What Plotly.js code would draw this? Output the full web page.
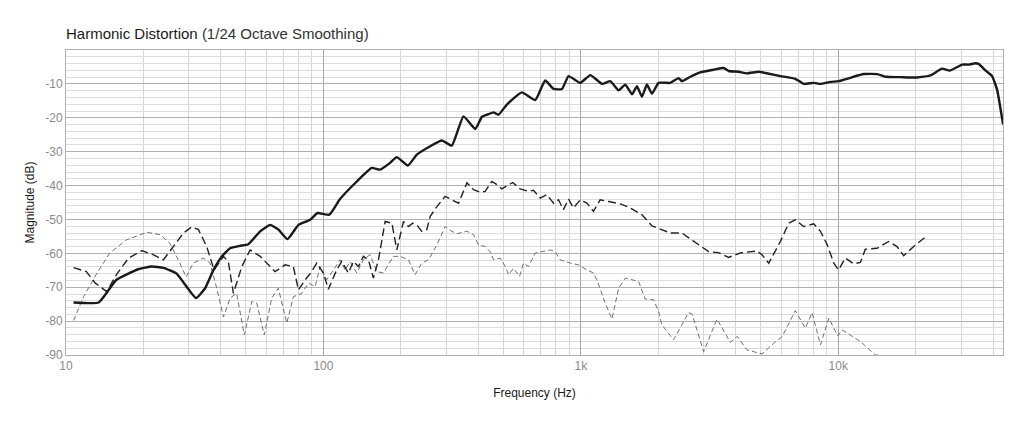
<!DOCTYPE html>
<html>
<head>
<meta charset="utf-8">
<script src="https://cdn.plot.ly/plotly-3.0.1.min.js"></script>
<style>html,body{margin:0;padding:0;background:#fff;}#chart{width:1024px;height:427px;}</style>
</head>
<body>
<div id="chart"></div>
<script>
// Fundamental (solid)
const fundFreq = [10.7, 13.4, 15.7, 19.1, 21.5, 23.9, 26.9, 32, 34.7, 37.4, 40.3, 43.4, 47.4, 51.1, 56.8, 62.1, 66.9, 72.5, 80, 88.8, 94.8, 105.5, 116, 134.8, 154, 166, 181.5, 192.8, 212.8, 230.6, 260, 288.5, 315.5, 350, 389, 413, 432, 458, 479, 516, 590, 665, 727, 784, 845, 896, 995, 1089, 1208, 1301, 1402, 1489, 1581, 1652, 1728, 1806, 1889, 2005, 2225, 2397, 2470, 2662, 2910, 3281, 3589, 3752, 4104, 4424, 4910, 5370, 5960, 6810, 7340, 8030, 8530, 9330, 10030, 11140, 12550, 14160, 15250, 17430, 20250, 22800, 25300, 27100, 30300, 32100, 34100, 35100, 37300, 39600, 41400, 43700];
const fundDb = [-74.5, -74.5, -67.8, -64.7, -63.9, -64.3, -66, -73.2, -70.3, -64.9, -60.9, -58.5, -57.8, -57.3, -53.5, -51.6, -53, -55.8, -51.6, -50.1, -48.1, -48.6, -44, -38.8, -34.8, -35.3, -33.3, -31.6, -34.1, -30.9, -28.4, -26.7, -28.2, -19.6, -23.3, -19.7, -19.1, -18.4, -19.1, -16.1, -12.5, -14.8, -9.0, -11.5, -11.5, -7.7, -9.7, -7.4, -10, -9.2, -11.9, -10.2, -13.1, -10.7, -13.8, -10.2, -12.9, -9.7, -9.7, -8.3, -9.2, -7.9, -6.6, -5.8, -5.3, -6.2, -6.4, -6.9, -6.4, -7.0, -7.7, -8.5, -10.0, -9.7, -10, -9.4, -9.2, -8.2, -7.1, -7.1, -7.9, -8.0, -8.1, -7.5, -5.5, -6.1, -4.3, -4.3, -3.9, -4.1, -6, -7.7, -11.7, -22];

// 2nd harmonic (dashed)
const h2Freq = [10.7, 12.0, 13.0, 14.4, 15.7, 17.5, 19.7, 21.8, 23.9, 26.1, 28.6, 30.8, 32.7, 35.2, 37.6, 40.9, 42.7, 44.7, 48.2, 51.9, 56.8, 64.9, 71, 76.4, 80, 84.9, 89.3, 94.2, 100, 104.5, 112.6, 117.8, 125, 130.8, 136.8, 143, 149.6, 156.4, 163.6, 173.7, 184.5, 192.8, 198.7, 204.6, 213.9, 222.4, 230.6, 241, 252, 260, 276, 297, 315.5, 335, 361, 383, 406, 425, 451, 472, 493, 516, 544, 581, 626, 655, 695, 738, 784, 819, 856, 896, 936, 995, 1056, 1120, 1189, 1282, 1423, 1556, 1728, 1889, 2032, 2225, 2470, 2705, 3137, 3431, 3752, 4162, 4550, 4830, 5055, 5370, 5960, 6420, 6810, 7340, 8030, 8530, 9060, 9610, 10030, 10650, 11480, 12190, 12740, 14160, 15700, 16920, 17960, 19630, 21790];
const h2Db = [-64.2, -65.4, -68.8, -71.3, -66.3, -61.4, -59.2, -60.4, -61.9, -58, -54.0, -52.2, -53, -58, -64.9, -60.9, -62.4, -71.8, -63.9, -59, -60.9, -65.4, -63.4, -63.9, -70.8, -67.8, -65.8, -62.9, -65.8, -70.6, -64.9, -62.4, -65.8, -62.4, -63.9, -60.9, -61.9, -67.3, -61.9, -50.6, -51.1, -59, -55, -50.6, -52.1, -51.1, -51.6, -53.5, -53, -49.1, -46.2, -43.2, -44.2, -45.2, -39.2, -41.2, -42.0, -41.7, -38.8, -39.7, -41, -40.2, -39.1, -41, -41.7, -41.4, -43.7, -42.7, -45.2, -44.2, -47.1, -44, -46.6, -44.2, -45.2, -47.6, -44.2, -44.7, -45.4, -46.6, -48.6, -51.9, -52.8, -54, -54, -56, -59.5, -59.8, -61.2, -59.9, -59.5, -59.3, -60.4, -62.9, -56.5, -51.1, -50.1, -52.1, -51.3, -53.5, -57.5, -62.9, -64.9, -61.4, -63.1, -62.7, -58.8, -58.5, -56.5, -58, -60.7, -58, -55.2];

// 3rd harmonic (thin dashed)
const h3Freq = [10.7, 11.7, 13.2, 14.8, 17.2, 20.6, 23.2, 25.3, 27.3, 29.3, 31.2, 34.2, 36.3, 38.5, 40.9, 43.4, 46, 49.3, 52.7, 55.1, 58.9, 63.0, 66.8, 72.1, 76.4, 82.4, 87.5, 92.9, 97.1, 103, 109.4, 116.1, 121.4, 127, 134.8, 143, 151.7, 161.3, 171, 181.5, 187, 198.7, 213.9, 227, 241, 256, 276, 297, 315.5, 330, 361, 383, 400, 425, 444, 458, 486, 509, 524, 548, 578, 599, 626, 665, 706, 761, 795, 831, 910, 980, 1056, 1120, 1154, 1244, 1321, 1402, 1489, 1605, 1676, 1778, 1918, 2005, 2065, 2291, 2624, 2705, 3000, 3380, 3810, 4047, 4424, 5055, 5615, 6055, 6810, 7450, 7910, 8530, 9190, 9960, 10350, 12190, 13940, 14590];
const h3Db = [-79.8, -72.8, -65.8, -59.9, -56, -53.8, -54.5, -57, -61.9, -67, -62.9, -61.4, -62.9, -70.3, -78.8, -73.2, -71.8, -84.1, -74.2, -74.7, -84.1, -73.2, -70.3, -80.6, -72.8, -71.8, -68.8, -69.8, -63.9, -67.8, -64.9, -61.9, -64.9, -62.4, -65.8, -61.9, -60.4, -65.4, -65.8, -62.4, -60.9, -60.9, -61.9, -66.3, -62.9, -61.9, -57.5, -52.1, -53.5, -54.2, -53.5, -54.5, -57.5, -58, -59.5, -61.9, -61.4, -63.9, -66.3, -64.4, -66.8, -62.9, -63.9, -59.9, -59.5, -59, -59.5, -61.9, -62.9, -63.4, -64.9, -65.8, -67.8, -74.7, -79.4, -70.3, -67.3, -67.8, -68.3, -73.5, -73.7, -77.2, -81.1, -85.5, -77.5, -77.9, -89, -79.4, -86.3, -84.5, -88.5, -89.7, -86.5, -84.6, -76.9, -82.1, -77.5, -87, -79.1, -84.4, -82.6, -86.0, -90, -90];

const xTickVals = [10, 100, 1000, 10000];
const xTickText = ['10', '100', '1k', '10k'];
const yTickVals = [-90, -80, -70, -60, -50, -40, -30, -20, -10];
const yTickText = ['-90', '-80', '-70', '-60', '-50', '-40', '-30', '-20', '-10'];

const xMinor = [];
[10, 100, 1000, 10000].forEach(d => { for (let k = 2; k <= 9; k++) { if (d * k < 44000) xMinor.push(d * k); } });

const traces = [
  {x: h3Freq, y: h3Db, type: 'scatter', mode: 'lines', name: '3rd',
   line: {color: '#707070', width: 1, dash: '5px,3px'}},
  {x: h2Freq, y: h2Db, type: 'scatter', mode: 'lines', name: '2nd',
   line: {color: '#222222', width: 1.4, dash: '8px,4px'}},
  {x: fundFreq, y: fundDb, type: 'scatter', mode: 'lines', name: 'Fundamental',
   line: {color: '#1a1a1a', width: 2.4, shape: 'spline', smoothing: 0.4}}
];

const layout = {
  width: 1024, height: 427,
  margin: {l: 66, r: 21, t: 50, b: 72},
  paper_bgcolor: '#fff', plot_bgcolor: '#fff',
  showlegend: false,
  font: {family: '"Liberation Sans", Arial, sans-serif', color: '#222'},
  title: {text: 'Harmonic Distortion <span style="color:#333">(1/24 Octave Smoothing)</span>',
          x: 0, xref: 'paper', xanchor: 'left', y: 1 - 34 / 427, yref: 'container', yanchor: 'middle',
          font: {size: 15, color: '#1a1a1a', family: '"Liberation Sans", Arial, sans-serif'}},
  xaxis: {
    type: 'log', range: [1, 4.64],
    tickmode: 'array', tickvals: xTickVals, ticktext: xTickText,
    tickfont: {size: 12, color: '#8a8a8a'},
    showgrid: true, gridcolor: '#a8a8a8', gridwidth: 1,
    minor: {tickmode: 'array', tickvals: xMinor, showgrid: true, gridcolor: '#d6d6d6', gridwidth: 1},
    showline: true, linecolor: '#b0b0b0', linewidth: 1, mirror: true,
    zeroline: false, ticks: '',
    title: {text: 'Frequency (Hz)', font: {size: 12, color: '#1a1a1a'}, standoff: 16}
  },
  yaxis: {
    range: [-90, 0],
    tickmode: 'array', tickvals: yTickVals, ticktext: yTickText,
    tickfont: {size: 12, color: '#8a8a8a'},
    showgrid: true, gridcolor: '#b0b0b0', gridwidth: 1,
    minor: {dtick: 2, tick0: 0, showgrid: true, gridcolor: '#dddddd', gridwidth: 1},
    showline: true, linecolor: '#b0b0b0', linewidth: 1, mirror: true,
    zeroline: false, ticks: '',
    title: {text: 'Magnitude (dB)', font: {size: 12, color: '#1a1a1a'}, standoff: 8}
  }
};

Plotly.newPlot('chart', traces, layout, {staticPlot: true, displayModeBar: false});
</script>
</body>
</html>
